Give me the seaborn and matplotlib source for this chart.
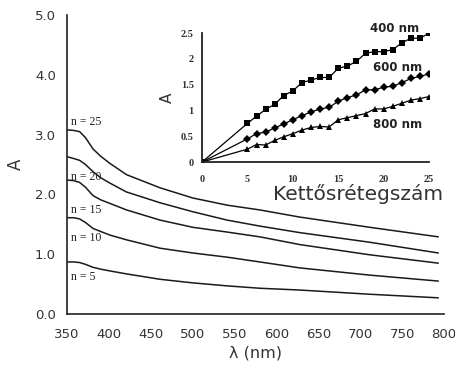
import numpy as np
import pandas as pd
import matplotlib
matplotlib.use("Agg")
import matplotlib.pyplot as plt
import seaborn as sns

# Main spectra data
wavelength = [350, 358, 365, 372, 381, 390, 401, 421, 461, 500, 541, 580, 628, 711, 793]
n25 = [3.08, 3.07, 3.05, 2.95, 2.76, 2.64, 2.52, 2.33, 2.11, 1.94, 1.82, 1.74, 1.62, 1.45, 1.29]
n20 = [2.63, 2.60, 2.57, 2.50, 2.38, 2.28, 2.19, 2.04, 1.86, 1.71, 1.57, 1.47, 1.36, 1.20, 1.02]
n15 = [2.24, 2.23, 2.20, 2.12, 1.98, 1.91, 1.85, 1.74, 1.57, 1.45, 1.37, 1.29, 1.16, 0.99, 0.85]
n10 = [1.61, 1.61, 1.59, 1.53, 1.43, 1.38, 1.32, 1.24, 1.10, 1.02, 0.95, 0.87, 0.77, 0.65, 0.55]
n5 = [0.87, 0.87, 0.86, 0.83, 0.78, 0.75, 0.72, 0.67, 0.58, 0.52, 0.47, 0.43, 0.40, 0.33, 0.27]
curve_labels = ["n = 25", "n = 20", "n = 15", "n = 10", "n = 5"]
label_y = [3.21, 2.29, 1.74, 1.27, 0.62]

# Inset data
layers = [0, 5, 6, 7, 8, 9, 10, 11, 12, 13, 14, 15, 16, 17, 18, 19, 20, 21, 22, 23, 24, 25]
a400 = [0, 0.75, 0.89, 1.02, 1.12, 1.29, 1.38, 1.54, 1.59, 1.64, 1.64, 1.82, 1.86, 1.95, 2.11, 2.14, 2.14, 2.18, 2.31, 2.40, 2.40, 2.50]
a600 = [0, 0.45, 0.55, 0.58, 0.66, 0.74, 0.82, 0.90, 0.97, 1.03, 1.06, 1.18, 1.25, 1.30, 1.40, 1.40, 1.45, 1.47, 1.54, 1.62, 1.66, 1.71]
a800 = [0, 0.25, 0.34, 0.33, 0.42, 0.49, 0.55, 0.62, 0.67, 0.69, 0.68, 0.82, 0.86, 0.90, 0.94, 1.03, 1.03, 1.08, 1.14, 1.20, 1.23, 1.27]
inset_names = ["400 nm", "600 nm", "800 nm"]

sns.set_style("white")
plt.rcParams['font.family'] = ['DejaVu Sans']

fig = plt.figure(figsize=(4.56, 3.76), dpi=100)
ax = fig.add_axes([0.147, 0.165, 0.827, 0.795])

main_df = pd.DataFrame({
    "wl": wavelength * 5,
    "A": n25 + n20 + n15 + n10 + n5,
    "n": sum([[lab] * len(wavelength) for lab in curve_labels], []),
})
sns.lineplot(data=main_df, x="wl", y="A", units="n", estimator=None,
             color="#1a1a1a", lw=1.1, ax=ax, legend=False)

ax.set_xlim(350, 800)
ax.set_ylim(0, 5)
ax.set_xticks(np.arange(350, 801, 50))
ax.set_xticks(np.arange(350, 801, 25), minor=True)
ax.set_yticks(np.arange(0, 5.01, 1.0))
ax.set_yticks(np.arange(0, 5.01, 0.5), minor=True)
ax.set_yticklabels([f"{v:.1f}" for v in np.arange(0, 5.01, 1.0)])
for s in ["top", "right"]:
    ax.spines[s].set_visible(False)
for s in ["left", "bottom"]:
    ax.spines[s].set_color("#222222")
    ax.spines[s].set_linewidth(1.2)
ax.tick_params(axis="x", which="both", direction="in", length=4, width=1, colors="#222222",
               labelsize=9.5, labelcolor="#333333", pad=10)
ax.tick_params(axis="y", which="both", direction="out", length=4, width=1, colors="#222222",
               labelsize=9.5, labelcolor="#333333", pad=4)
ax.set_xlabel("λ (nm)", fontsize=11.5, color="#333333", labelpad=3)
ax.set_ylabel("A", fontsize=12, color="#333333", labelpad=7)

for lab, yv in zip(curve_labels, label_y):
    ax.text(355, yv, lab, fontsize=8.5, family="Liberation Serif", color="#222222",
            ha="left", va="center")

# Inset
ins = fig.add_axes([0.443, 0.569, 0.498, 0.343])
ins_df = pd.DataFrame({
    "x": layers * 3,
    "A": a400 + a600 + a800,
    "wl": sum([[nm] * len(layers) for nm in inset_names], []),
})
sns.lineplot(data=ins_df, x="x", y="A", hue="wl", style="wl",
             palette=["black"] * 3, markers=["s", "D", "^"], dashes=False,
             markersize=4.5, markeredgewidth=0, lw=0.9, ax=ins, legend=False)
ins.set_xlim(0, 25)
ins.set_ylim(0, 2.5)
ins.set_xticks(np.arange(0, 26, 5))
ins.set_yticks([0, 0.5, 1, 1.5, 2, 2.5])
ins.set_yticklabels(["0", "0.5", "1", "1.5", "2", "2.5"])
ins.patch.set_alpha(0)
for s in ["top", "right"]:
    ins.spines[s].set_visible(False)
for s in ["left", "bottom"]:
    ins.spines[s].set_color("#222222")
    ins.spines[s].set_linewidth(1.3)
ins.tick_params(axis="x", direction="in", length=3, width=1, colors="#222222", pad=9)
ins.tick_params(axis="y", direction="out", length=3, width=1, colors="#222222", pad=3)
for t in ins.get_xticklabels() + ins.get_yticklabels():
    t.set_family("Liberation Serif")
    t.set_fontsize(7.5)
    t.set_fontweight("bold")
    t.set_color("#333333")
ins.set_xlabel("")
ins.set_ylabel("A", fontsize=11, color="#333333", labelpad=4)
ins.text(0.685, -0.25, "Kettősrétegszám", transform=ins.transAxes, fontsize=14.5,
         color="#333333", ha="center", va="center")
ins.text(18.5, 2.59, "400 nm", fontsize=8.5, fontweight="bold", color="#222222", ha="left", va="center")
ins.text(18.8, 1.83, "600 nm", fontsize=8.5, fontweight="bold", color="#222222", ha="left", va="center")
ins.text(18.8, 0.72, "800 nm", fontsize=8.5, fontweight="bold", color="#222222", ha="left", va="center")

fig.savefig("out.png", dpi=100)
